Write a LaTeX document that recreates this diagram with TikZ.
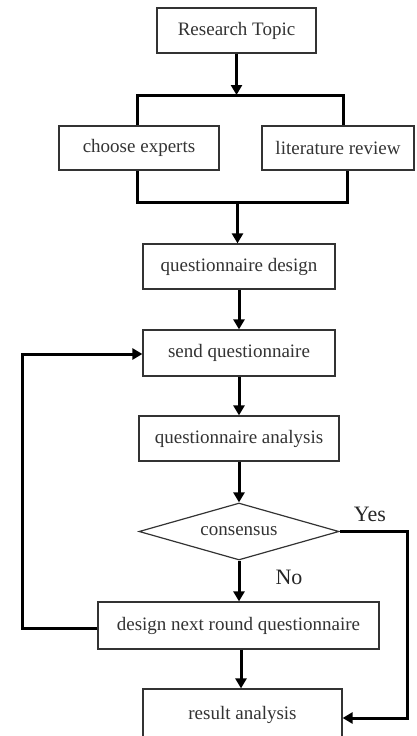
\documentclass[tikz,border=0pt]{standalone}
\usepackage{fontspec}
\setmainfont{Liberation Serif}
\usetikzlibrary{arrows.meta,shapes.geometric}
\begin{document}
\begin{tikzpicture}[x=1pt,y=-1pt,
  box/.style={draw=black!80,line width=1.2pt,fill=white,text=black!80,inner sep=0pt,font=\fontsize{19}{21}\selectfont},
  dec/.style={diamond,aspect=3.5,draw=black!80,line width=1.2pt,text=black!80,inner sep=0pt,font=\fontsize{19}{21}\selectfont},
  link/.style={line width=3pt,black},
  arr/.style={link,-{Triangle[width=11pt,length=10pt]}},
  lab/.style={text=black!85,font=\fontsize{22}{24}\selectfont}]
\useasboundingbox (0,0) rectangle (417,736);
\clip (0,0) rectangle (417,736);
\node[box,minimum width=159pt,minimum height=45pt] (rt) at (236.5,30.5) {Research Topic};
\node[box,minimum width=160pt,minimum height=44pt] (ce) at (139,148) {choose experts};
\node[box,minimum width=152pt,minimum height=44pt] (lr) at (338,148) {literature review};
\node[box,minimum width=192pt,minimum height=45pt] (qd) at (239,266.5) {questionnaire design};
\node[box,minimum width=192pt,minimum height=46pt] (sq) at (239,353) {send questionnaire};
\node[box,minimum width=200pt,minimum height=45pt] (qa) at (239,438.5) {questionnaire analysis};
\node[dec,minimum width=200pt,minimum height=57pt] (cs) at (239,531.5) {consensus};
\node[box,minimum width=281pt,minimum height=47pt] (dn) at (238.5,625.5) {design next round questionnaire};
\node[box,minimum width=199pt,minimum height=52pt] (ra) at (242.5,715) {result analysis};
\node[lab] (yes) at (370,514) {Yes};
\node[lab] (no) at (289,577) {No};
% brackets
\coordinate (btl) at (137,95);
\coordinate (btr) at (343,95);
\coordinate (bbl) at (137,202);
\coordinate (bbr) at (347,202);
\coordinate (bbm) at (237.5,202);
\draw[arr] (rt.south) -- (rt.south |- btl);
\draw[link,line join=miter] (ce.north -| btl) -- (btl) -- (btr) -- (lr.north -| btr);
\draw[link,line join=miter] (ce.south -| bbl) -- (bbl) -- (bbr) -- (lr.south -| bbr);
\draw[arr] (bbm) -- (qd.north -| bbm);
\draw[arr] (qd) -- (sq);
\draw[arr] (sq) -- (qa);
\draw[arr] (qa.south) -- (cs.north);
\draw[arr] (cs.south) -- (cs.south |- dn.north);
\draw[arr] (dn.south -| 241,0) -- (ra.north -| 241,0);
% feedback
\coordinate (fb1) at (22,628);
\coordinate (fb2) at (22,354);
\draw[arr,line join=miter] (dn.west |- fb1) -- (fb1) -- (fb2) -- (sq.west |- fb2);
% yes
\coordinate (y1) at (407,531.5);
\coordinate (y2) at (407,718);
\draw[arr,line join=miter] (cs.east) -- (y1) -- (y2) -- (ra.east |- y2);
\end{tikzpicture}
\end{document}
